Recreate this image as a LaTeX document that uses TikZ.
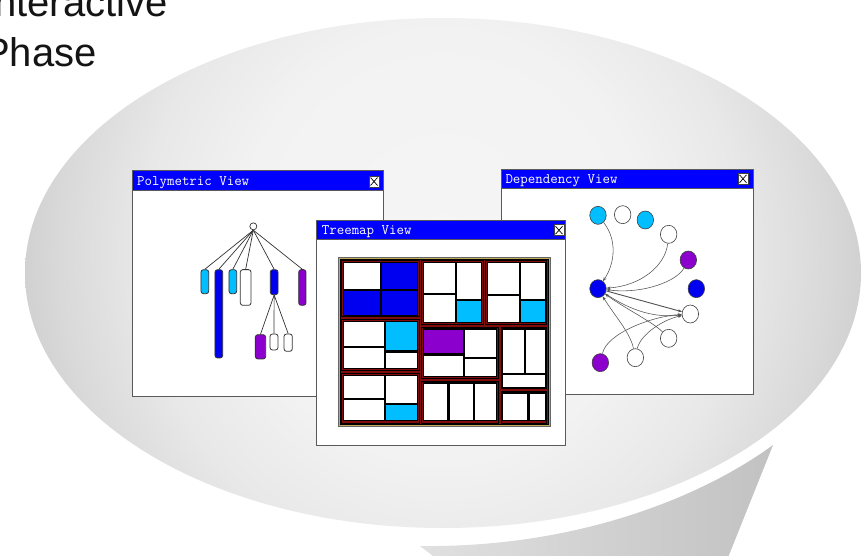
\documentclass[tikz,border=0pt]{standalone}
\usepackage{fontspec}
\newfontfamily\arialf{Liberation Sans}
\usetikzlibrary{arrows.meta,shapes.geometric}
\definecolor{tbblue}{RGB}{0,0,255}
\definecolor{cellblue}{RGB}{0,0,240}
\definecolor{cyanc}{RGB}{0,190,255}
\definecolor{purp}{RGB}{140,0,205}
\definecolor{maroonc}{RGB}{130,12,12}
\definecolor{goldc}{RGB}{195,172,88}
\definecolor{winline}{RGB}{90,90,90}
\pgfdeclareradialshading{bubble}{\pgfpoint{0bp}{2bp}}{color(0bp)=(black!4); color(12bp)=(black!5); color(18bp)=(black!9); color(23bp)=(black!15); color(25bp)=(black!18); color(50bp)=(black!20)}
\newcommand\closebtn[2]{%
  \draw[fill=white, draw=black!75, line width=0.6pt] (#1,#2) rectangle ++(10,11);
  \draw[black, line width=0.7pt] (#1+1.5,#2+1.5) -- ++(7,8) (#1+8.5,#2+1.5) -- ++(-7,8);
}
\begin{document}
\begin{tikzpicture}[x=1pt,y=-1pt,
  win/.style={fill=white, draw=winline, line width=1pt},
  tbar/.style={fill=tbblue, draw=winline, line width=1pt},
  wtitle/.style={font=\ttfamily\addfontfeatures{FakeBold=1.2,FakeStretch=0.93}\fontsize{14.5}{15}\selectfont, text=white, inner sep=0, anchor=base west},
  bigtext/.style={font=\arialf\fontsize{40}{40}\selectfont, text=black!92, inner sep=0, anchor=base west},
  pbar/.style={rectangle, rounded corners=2.5pt, draw=black!80, line width=0.8pt, inner sep=0},
  tree/.style={draw=black!80, line width=0.7pt},
  dnode/.style={ellipse, draw=black!75, line width=0.6pt, minimum width=16.5pt, minimum height=18pt, inner sep=0},
  darrow/.style={draw=black!68, line width=0.55pt, -{Stealth[length=4pt,width=3pt]}},
  tcell/.style={draw=black, line width=0.5pt}]
\useasboundingbox (0,0) rectangle (865,556);
\fill[white] (0,0) rectangle (865,556);
\clip (0,0) rectangle (865,556);
% speech bubble
\begin{scope}
  \clip (443,273) ellipse [x radius=418, y radius=255];
  \shade[shading=bubble] (25,-170) rectangle (861,716);
\end{scope}
\shade[left color=black!12, middle color=black!6, right color=black!24]
  (420,546) .. controls (580,548) and (705,495) .. (773,445) -- (725,565) -- (430,565) -- (433,556) -- cycle;
% title
\node[bigtext] (t1) at (-17,17) {Interactive};
\node[bigtext] (t2) at (-17,67) {Phase};

% ---------- Polymetric view ----------
\draw[win] (132,171) rectangle (383,396);
\draw[tbar] (132,171) rectangle (383,191);
\node[wtitle] (pvt) at (137,185.5) {Polymetric View};
\closebtn{369}{176}
\begin{scope}[shift={(130,168)}, scale=1/3]
  \node[circle, draw=black!80, line width=0.7pt, fill=white, minimum size=7pt, inner sep=0] (proot) at (370,175) {};
  \node[pbar, fill=cyanc, minimum width=7.7pt, minimum height=24pt] (pa) at (224.5,341) {};
  \node[pbar, fill=cellblue, minimum width=7.7pt, minimum height=88.3pt] (pb) at (266.5,437.5) {};
  \node[pbar, fill=cyanc, minimum width=7.7pt, minimum height=24pt] (pc) at (308.5,341) {};
  \node[pbar, fill=white, minimum width=10.7pt, minimum height=35.7pt] (pd) at (347,358.5) {};
  \node[pbar, fill=cellblue, minimum width=7.7pt, minimum height=25pt] (pe) at (432.5,342.5) {};
  \node[pbar, fill=purp, minimum width=7.3pt, minimum height=35.7pt] (pf) at (517,358.5) {};
  \node[pbar, fill=purp, minimum width=10.3pt, minimum height=24.3pt] (pg) at (391.5,536.5) {};
  \node[pbar, fill=white, minimum width=8pt, minimum height=16pt] (ph) at (432,522) {};
  \node[pbar, fill=white, minimum width=8.3pt, minimum height=17.3pt] (pi) at (474.5,524) {};
  \foreach \c in {pa,pb,pc,pd,pe,pf} \draw[tree] (proot.south) -- (\c.north);
  \foreach \c in {pg,ph,pi} \draw[tree] (pe.south) -- (\c.north);
\end{scope}

% ---------- Dependency view ----------
\draw[win] (501,170) rectangle (753,394);
\draw[tbar] (501,170) rectangle (753,188.7);
\node[wtitle] (dvt) at (505.3,183.8) {Dependency View};
\closebtn{738}{173.3}
\begin{scope}[shift={(497,166)}, scale=1/3]
  \node[dnode, fill=cyanc] (d1) at (303,148) {};
  \node[dnode, fill=white] (d2) at (377,146) {};
  \node[dnode, fill=cyanc] (d3) at (445,162) {};
  \node[dnode, fill=white] (d4) at (515,205) {};
  \node[dnode, fill=purp] (d5) at (574,282) {};
  \node[dnode, fill=cellblue] (d6) at (598,368) {};
  \node[dnode, fill=white] (d7) at (580,444) {};
  \node[dnode, fill=white] (d8) at (515,517) {};
  \node[dnode, fill=white] (d9) at (415,575) {};
  \node[dnode, fill=purp] (d10) at (310,590) {};
  \node[dnode, fill=cellblue] (dc) at (303,368) {};
  \draw[darrow] (d1) .. controls (360,220) and (355,290) .. (dc);
  \draw[darrow] (d4) .. controls (505,300) and (430,360) .. (dc);
  \draw[darrow] (d5) .. controls (540,345) and (440,385) .. (dc);
  \draw[darrow, line width=0.9pt] (dc) -- (d7);
  \draw[darrow] (dc) .. controls (410,440) and (480,455) .. (d7);
  \draw[darrow] (d8) .. controls (470,470) and (380,425) .. (dc);
  \draw[darrow] (d9) .. controls (400,500) and (350,445) .. (dc);
  \draw[darrow] (d10) .. controls (330,500) and (470,450) .. (d7);
  \draw[darrow] (d9) .. controls (430,505) and (500,460) .. (d7);
\end{scope}

% ---------- Treemap view ----------
\draw[win] (316.7,220.7) rectangle (565.7,445);
\draw[tbar] (316.7,220.7) rectangle (565.7,239.7);
\node[wtitle] (tvt) at (321.7,234.5) {Treemap View};
\closebtn{554}{224.7}
\begin{scope}[shift={(315,218)}, scale=1/3]
  \filldraw[fill=goldc, draw=black!60, line width=0.6pt] (70,117) rectangle (705,625);
  \filldraw[fill=maroonc, draw=black, line width=0.6pt] (76,123) rectangle (699,619);
  % group outlines
  \foreach \a/\b/\c/\d in {78/125/315/298, 318/125/507/320, 510/125/697/320,
                           78/302/315/460, 318/325/552/483, 556/325/697/513,
                           78/464/315/617, 318/487/552/617, 556/517/697/617}
    \draw[black, line width=0.6pt] (\a+2,\b+2) rectangle (\c-2,\d-2);
  % black blocks
  \foreach \a/\b/\c/\d in {83/131/310/294, 324/131/502/315, 516/131/692/315,
                           83/308/310/454, 324/331/547/477, 561/331/692/509,
                           83/470/310/609, 324/493/547/609, 561/523/692/609}
    \fill[black] (\a,\b) rectangle (\c,\d);
  % G1
  \filldraw[tcell, fill=white] (85,133) rectangle (197,213);
  \filldraw[tcell, fill=cellblue] (200,133) rectangle (308,213);
  \filldraw[tcell, fill=cellblue] (85,217) rectangle (197,292);
  \filldraw[tcell, fill=cellblue] (200,217) rectangle (308,292);
  % G2
  \filldraw[tcell, fill=white] (326,133) rectangle (420,226);
  \filldraw[tcell, fill=white] (424,133) rectangle (500,243);
  \filldraw[tcell, fill=white] (326,230) rectangle (420,313);
  \filldraw[tcell, fill=cyanc] (424,247) rectangle (500,313);
  % G3
  \filldraw[tcell, fill=white] (518,133) rectangle (612,228);
  \filldraw[tcell, fill=white] (616,133) rectangle (690,243);
  \filldraw[tcell, fill=white] (518,232) rectangle (612,313);
  \filldraw[tcell, fill=cyanc] (616,247) rectangle (690,313);
  % G4
  \filldraw[tcell, fill=white] (85,310) rectangle (207,384);
  \filldraw[tcell, fill=cyanc] (210,310) rectangle (308,398);
  \filldraw[tcell, fill=white] (85,388) rectangle (207,452);
  \filldraw[tcell, fill=white] (210,402) rectangle (308,452);
  % G5
  \filldraw[tcell, fill=purp] (326,333) rectangle (445,407);
  \filldraw[tcell, fill=white] (448,333) rectangle (545,417);
  \filldraw[tcell, fill=white] (326,411) rectangle (445,475);
  \filldraw[tcell, fill=white] (448,421) rectangle (545,475);
  % G6
  \filldraw[tcell, fill=white] (563,333) rectangle (627,465);
  \filldraw[tcell, fill=white] (631,333) rectangle (690,465);
  \filldraw[tcell, fill=white] (563,469) rectangle (690,507);
  % G7
  \filldraw[tcell, fill=white] (85,472) rectangle (207,540);
  \filldraw[tcell, fill=white] (210,472) rectangle (308,555);
  \filldraw[tcell, fill=white] (85,544) rectangle (207,607);
  \filldraw[tcell, fill=cyanc] (210,559) rectangle (308,607);
  % G8
  \filldraw[tcell, fill=white] (326,495) rectangle (398,607);
  \filldraw[tcell, fill=white] (402,495) rectangle (475,607);
  \filldraw[tcell, fill=white] (479,495) rectangle (545,607);
  % G9
  \filldraw[tcell, fill=white] (563,525) rectangle (638,607);
  \filldraw[tcell, fill=white] (642,525) rectangle (690,607);
\end{scope}
\end{tikzpicture}
\end{document}
